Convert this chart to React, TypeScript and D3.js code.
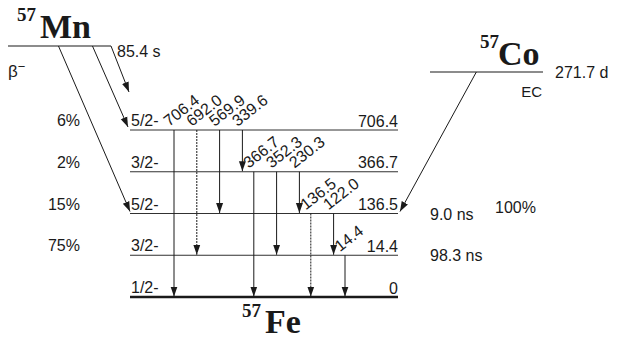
import React from 'react';
import * as d3 from 'd3';

// levels of 57Fe, top to bottom
const levelEnergies = ['706.4', '366.7', '136.5', '14.4', '0'];
const levelSpins = ['5/2-', '3/2-', '5/2-', '3/2-', '1/2-'];
const betaPercents = ['6%', '2%', '15%', '75%'];

// gamma transitions
const gammaFrom = ['706.4', '706.4', '706.4', '706.4', '366.7', '366.7', '366.7', '136.5', '136.5', '14.4'];
const gammaTo = ['0', '14.4', '136.5', '366.7', '0', '14.4', '136.5', '0', '14.4', '0'];
const gammaLabels = ['706.4', '692.0', '569.9', '339.6', '366.7', '352.3', '230.3', '136.5', '122.0', '14.4'];
const gammaDotted = [false, true, false, false, false, false, false, true, false, false];

const halfLifeLevels = ['136.5', '14.4'];
const halfLifeTexts = ['9.0 ns', '98.3 ns'];

const sans = '"Liberation Sans", Arial, sans-serif';
const serif = '"Liberation Serif", "Times New Roman", serif';
const ink = '#1a1a1a';
const fs = 16;

export default function App() {
  const width = 622, height = 340;
  const levelLeft = 130, levelRight = 398;

  const y = d3.scalePoint<string>().domain(levelEnergies).range([130, 297]);

  // column slot for each gamma, packed a bit tighter between groups
  const groups = Array.from(new Set(gammaFrom));
  const slots = gammaFrom.map((f, i) => i - 0.5 * groups.indexOf(f));
  const x = d3.scaleLinear().domain([0, d3.max(slots) as number]).range([174, 345]);

  // parent levels
  const mnY = 46, mnX = d3.scaleLinear().domain([0, 1]).range([8, 111]);
  const coY = 72, coX = d3.scaleLinear().domain([0, 1]).range([430, 543]);

  const feeds = [
    { x1: mnX(0.49), y1: mnY, x2: levelLeft, y2: (y('136.5') as number) - 2 },
    { x1: mnX(0.82), y1: mnY, x2: levelLeft - 2, y2: (y('706.4') as number) - 3 },
    { x1: mnX(1), y1: mnY, x2: levelLeft - 1, y2: 92 },
    { x1: coX(0.41), y1: coY, x2: levelRight + 2, y2: (y('136.5') as number) - 2 },
  ];

  return (
    <svg width={width} height={height} style={{ position: 'absolute', left: 0, top: 0, background: '#fff' }}>
      <defs>
        <marker id="arr" viewBox="0 0 10 10" refX="10" refY="5" markerWidth="10" markerHeight="10"
          markerUnits="userSpaceOnUse" orient="auto">
          <path d="M0,1.5 L10,5 L0,8.5 Z" fill={ink} />
        </marker>
      </defs>

      {/* 57Mn */}
      <text x={17} y={21} fontFamily={serif} fontWeight="bold" fontSize={19} fill={ink}>57</text>
      <text x={40} y={38} fontFamily={serif} fontWeight="bold" fontSize={34} fill={ink}>Mn</text>
      <line x1={mnX(0)} x2={mnX(1)} y1={mnY} y2={mnY} stroke={ink} strokeWidth={1.2} />
      <text x={117} y={57} fontFamily={sans} fontSize={fs} fill={ink}>85.4 s</text>
      <text x={8} y={77} fontFamily={sans} fontSize={17} fill={ink}>
        β<tspan dy={-6} fontSize={13}>−</tspan>
      </text>

      {/* 57Co */}
      <text x={480} y={48} fontFamily={serif} fontWeight="bold" fontSize={19} fill={ink}>57</text>
      <text x={498} y={65} fontFamily={serif} fontWeight="bold" fontSize={34} fill={ink}>Co</text>
      <line x1={coX(0)} x2={coX(1)} y1={coY} y2={coY} stroke={ink} strokeWidth={1.2} />
      <text x={555} y={78} fontFamily={sans} fontSize={fs} fill={ink}>271.7 d</text>
      <text x={542} y={97} textAnchor="end" fontFamily={sans} fontSize={15} fill={ink}>EC</text>

      {/* feeding arrows */}
      {feeds.map((f, i) => (
        <line key={'f' + i} x1={f.x1} y1={f.y1} x2={f.x2} y2={f.y2} stroke={ink} strokeWidth={1}
          markerEnd="url(#arr)" />
      ))}

      {/* levels */}
      {levelEnergies.map((e, i) => {
        const ly = y(e) as number;
        const ground = e === '0';
        return (
          <g key={'l' + e}>
            <line x1={levelLeft} x2={levelRight} y1={ly} y2={ly} stroke={ink}
              strokeWidth={ground ? 2.4 : 0.9} />
            <text x={levelLeft + 1} y={ly - 4} fontFamily={sans} fontSize={fs} fill={ink}>{levelSpins[i]}</text>
            <text x={levelRight} y={ly - 3.5} textAnchor="end" fontFamily={sans} fontSize={fs} fill={ink}>{e}</text>
            {betaPercents[i] && (
              <text x={80} y={ly - 4} textAnchor="end" fontFamily={sans} fontSize={fs} fill={ink}>{betaPercents[i]}</text>
            )}
          </g>
        );
      })}

      {/* gamma transitions */}
      {gammaLabels.map((g, i) => {
        const gx = x(slots[i]);
        const y1 = y(gammaFrom[i]) as number;
        const y2 = y(gammaTo[i]) as number;
        return (
          <g key={'g' + i}>
            <line x1={gx} x2={gx} y1={y1} y2={y2 - 0.5} stroke={ink} strokeWidth={1}
              strokeDasharray={gammaDotted[i] ? '2,1' : undefined} markerEnd="url(#arr)" />
            <text transform={`translate(${gx - 5},${y1 - 3}) rotate(-38)`} fontFamily={sans}
              fontSize={fs} fill={ink}>{g}</text>
          </g>
        );
      })}

      {/* half-lives */}
      {halfLifeLevels.map((e, i) => (
        <text key={'h' + e} x={430} y={(y(e) as number) + 6} fontFamily={sans} fontSize={fs} fill={ink}>
          {halfLifeTexts[i]}
        </text>
      ))}
      <text x={495} y={213} fontFamily={sans} fontSize={fs} fill={ink}>100%</text>

      {/* 57Fe */}
      <text x={242} y={317} fontFamily={serif} fontWeight="bold" fontSize={19} fill={ink}>57</text>
      <text x={265} y={333} fontFamily={serif} fontWeight="bold" fontSize={34} fill={ink}>Fe</text>
    </svg>
  );
}
